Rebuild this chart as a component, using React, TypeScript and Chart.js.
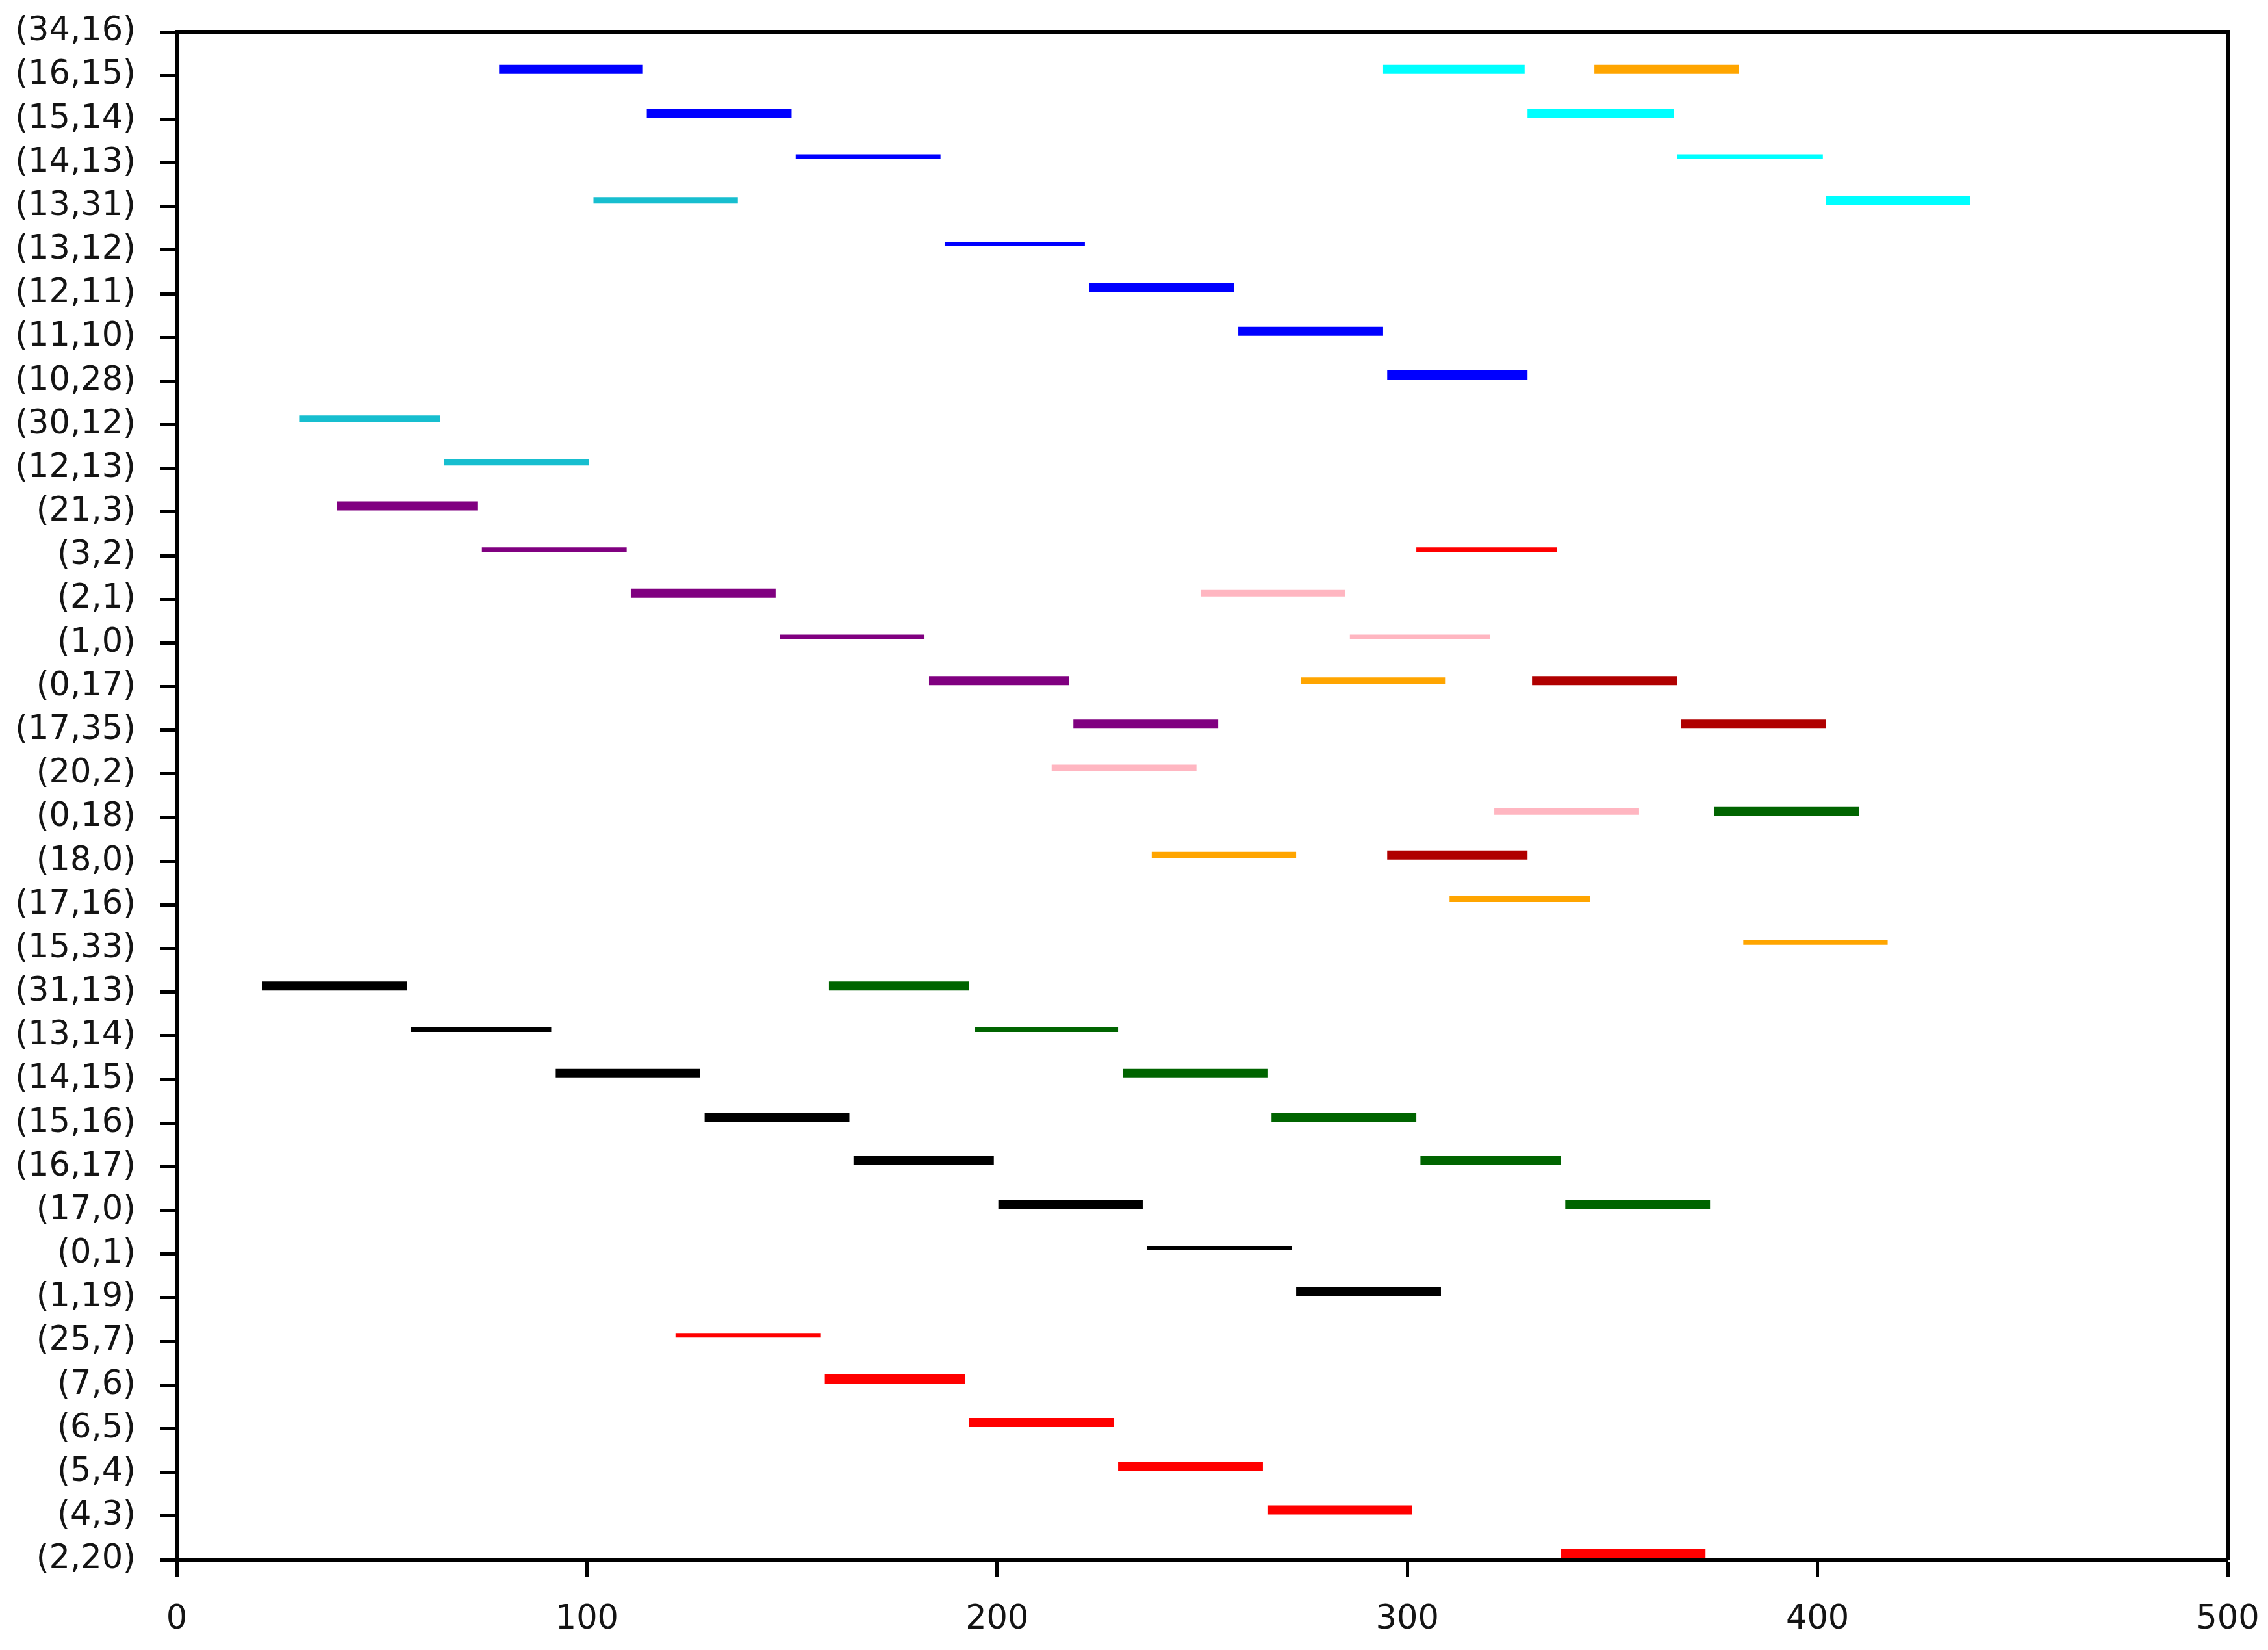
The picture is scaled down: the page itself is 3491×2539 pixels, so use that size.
import React, { useEffect, useRef } from "react";
import { Chart, registerables } from "chart.js";

Chart.register(...registerables);

// Row labels, listed from the bottom of the y axis to the top
const categories = [
  "(2,20)", "(4,3)", "(5,4)", "(6,5)", "(7,6)", "(25,7)", "(1,19)", "(0,1)",
  "(17,0)", "(16,17)", "(15,16)", "(14,15)", "(13,14)", "(31,13)", "(15,33)",
  "(17,16)", "(18,0)", "(0,18)", "(20,2)", "(17,35)", "(0,17)", "(1,0)", "(2,1)",
  "(3,2)", "(21,3)", "(12,13)", "(30,12)", "(10,28)", "(11,10)", "(12,11)",
  "(13,12)", "(13,31)", "(14,13)", "(15,14)", "(16,15)", "(34,16)",
];

const xTicks = [0, 100, 200, 300, 400, 500];

// Segments per series: row index into categories, start and end on x
const blueRows = [34, 33, 32, 30, 29, 28, 27];
const blueStart = [78.6, 114.6, 150.9, 187.2, 222.5, 258.8, 295.1];
const blueEnd = [113.5, 149.9, 186.2, 221.4, 257.8, 294.1, 329.3];

const cyanRows = [34, 33, 32, 31];
const cyanStart = [294.1, 329.3, 365.7, 402.0];
const cyanEnd = [328.6, 365.0, 401.3, 437.2];

const skyRows = [31, 26, 25];
const skyStart = [101.6, 30.0, 65.2];
const skyEnd = [136.8, 64.2, 100.5];

const purpleRows = [24, 23, 22, 21, 20, 19];
const purpleStart = [39.1, 74.4, 110.7, 147.0, 183.4, 218.6];
const purpleEnd = [73.3, 109.7, 146.0, 182.3, 217.6, 253.9];

const pinkRows = [22, 21, 18, 17];
const pinkStart = [249.6, 286.0, 213.3, 321.2];
const pinkEnd = [284.9, 320.2, 248.6, 356.5];

const orangeRows = [34, 20, 16, 15, 14];
const orangeStart = [345.6, 274.0, 237.7, 310.3, 381.9];
const orangeEnd = [380.8, 309.2, 272.9, 344.5, 417.1];

const darkRedRows = [20, 19, 16];
const darkRedStart = [330.4, 366.7, 295.1];
const darkRedEnd = [365.7, 402.0, 329.3];

const greenRows = [17, 13, 12, 11, 10, 9, 8];
const greenStart = [374.8, 159.0, 194.6, 230.6, 266.9, 303.2, 338.5];
const greenEnd = [410.1, 193.2, 229.5, 265.9, 302.2, 337.4, 373.8];

const blackRows = [13, 12, 11, 10, 9, 8, 7, 6];
const blackStart = [20.8, 57.1, 92.4, 128.7, 165.0, 200.3, 236.6, 272.9];
const blackEnd = [56.1, 91.3, 127.6, 164.0, 199.2, 235.5, 271.9, 308.2];

const redRows = [23, 5, 4, 3, 2, 1, 0];
const redStart = [302.2, 121.6, 158.0, 193.2, 229.5, 265.9, 337.4];
const redEnd = [336.4, 156.9, 192.2, 228.5, 264.8, 301.1, 372.7];

// Styles (kept apart from the values)
const THICK = 14;
const MID = 10;
const THIN = 7;
const blueWidths = [THICK, THICK, THIN, THIN, THICK, THICK, THICK];
const cyanWidths = [THICK, THICK, THIN, THICK];
const skyWidths = [MID, MID, MID];
const purpleWidths = [THICK, THIN, THICK, THIN, THICK, THICK];
const pinkWidths = [MID, THIN, MID, MID];
const orangeWidths = [THICK, MID, MID, MID, THIN];
const darkRedWidths = [THICK, THICK, THICK];
const greenWidths = [THICK, THICK, THIN, THICK, THICK, THICK, THICK];
const blackWidths = [THICK, THIN, THICK, THICK, THICK, THICK, THIN, THICK];
const redWidths = [THIN, THIN, THICK, THICK, THICK, THICK, THICK];

const ROW_SHIFT = 0.14;

const series = [
  { rows: blueRows, start: blueStart, end: blueEnd, color: "#0000ff", widths: blueWidths },
  { rows: cyanRows, start: cyanStart, end: cyanEnd, color: "#00ffff", widths: cyanWidths },
  { rows: skyRows, start: skyStart, end: skyEnd, color: "#17becf", widths: skyWidths },
  { rows: purpleRows, start: purpleStart, end: purpleEnd, color: "#800080", widths: purpleWidths },
  { rows: pinkRows, start: pinkStart, end: pinkEnd, color: "#ffb6c1", widths: pinkWidths },
  { rows: orangeRows, start: orangeStart, end: orangeEnd, color: "#ffa500", widths: orangeWidths },
  { rows: darkRedRows, start: darkRedStart, end: darkRedEnd, color: "#b00000", widths: darkRedWidths },
  { rows: greenRows, start: greenStart, end: greenEnd, color: "#006400", widths: greenWidths },
  { rows: blackRows, start: blackStart, end: blackEnd, color: "#000000", widths: blackWidths },
  { rows: redRows, start: redStart, end: redEnd, color: "#ff0000", widths: redWidths },
];

const FONT = "'DejaVu Sans', sans-serif";

export default function App() {
  const canvasRef = useRef<HTMLCanvasElement | null>(null);

  useEffect(() => {
    if (!canvasRef.current) return;
    const datasets: any[] = [];
    series.forEach((s) => {
      s.rows.forEach((row, i) => {
        const y = row + ROW_SHIFT;
        datasets.push({
          data: [
            { x: s.start[i], y },
            { x: s.end[i], y },
          ],
          borderColor: s.color,
          backgroundColor: s.color,
          borderWidth: s.widths[i],
          borderCapStyle: "butt",
          pointRadius: 0,
          pointHoverRadius: 0,
          fill: false,
          tension: 0,
          xAxisID: "x",
          yAxisID: "y",
        });
      });
    });

    const tickGrid = {
      display: true,
      drawOnChartArea: false,
      drawTicks: true,
      tickLength: 26,
      tickWidth: 5,
      tickColor: "#000000",
    };

    const chart = new Chart(canvasRef.current, {
      type: "line",
      data: { datasets },
      options: {
        animation: false,
        responsive: false,
        maintainAspectRatio: false,
        devicePixelRatio: 1,
        layout: { padding: { left: 0, right: 62, top: 49, bottom: 0 } },
        plugins: {
          legend: { display: false },
          tooltip: { enabled: false },
          title: { display: false },
        },
        events: [],
        scales: {
          x: {
            type: "linear",
            position: "bottom",
            min: 0,
            max: 500,
            afterBuildTicks: (s: any) => {
              s.ticks = xTicks.map((v) => ({ value: v }));
            },
            afterFit: (s: any) => {
              s.height = 139;
              s.paddingLeft = 0;
              s.paddingRight = 0;
            },
            grid: tickGrid,
            border: { display: true, color: "#000000", width: 7, z: 1 },
            ticks: {
              color: "#141414",
              font: { family: FONT, size: 51 },
              padding: 36,
              maxRotation: 0,
              autoSkip: false,
            },
          },
          y: {
            type: "linear",
            position: "left",
            min: 0,
            max: 35,
            afterBuildTicks: (s: any) => {
              s.ticks = categories.map((_, i) => ({ value: i }));
            },
            afterFit: (s: any) => {
              s.width = 272;
              s.paddingTop = 0;
              s.paddingBottom = 0;
            },
            grid: tickGrid,
            border: { display: true, color: "#000000", width: 6, z: 1 },
            ticks: {
              color: "#141414",
              font: { family: FONT, size: 51 },
              padding: 37,
              autoSkip: false,
              callback: (v: any) => categories[Math.round(Number(v))] ?? "",
            },
          },
          x2: {
            type: "linear",
            position: "top",
            display: true,
            min: 0,
            max: 1,
            afterFit: (s: any) => {
              s.height = 0;
              s.paddingLeft = 0;
              s.paddingRight = 0;
            },
            grid: { display: false, drawTicks: false },
            ticks: { display: false },
            border: { display: true, color: "#000000", width: 7, z: 1 },
          },
          y2: {
            type: "linear",
            position: "right",
            display: true,
            min: 0,
            max: 1,
            afterFit: (s: any) => {
              s.width = 0;
              s.paddingTop = 0;
              s.paddingBottom = 0;
            },
            grid: { display: false, drawTicks: false },
            ticks: { display: false },
            border: { display: true, color: "#000000", width: 6, z: 1 },
          },
        },
      } as any,
    });

    return () => {
      chart.destroy();
    };
  }, []);

  return (
    <div
      style={{
        position: "fixed",
        left: 0,
        top: 0,
        width: 3491,
        height: 2539,
        background: "#ffffff",
      }}
    >
      <canvas
        ref={canvasRef}
        width={3491}
        height={2539}
        style={{ display: "block", width: 3491, height: 2539 }}
      />
    </div>
  );
}
